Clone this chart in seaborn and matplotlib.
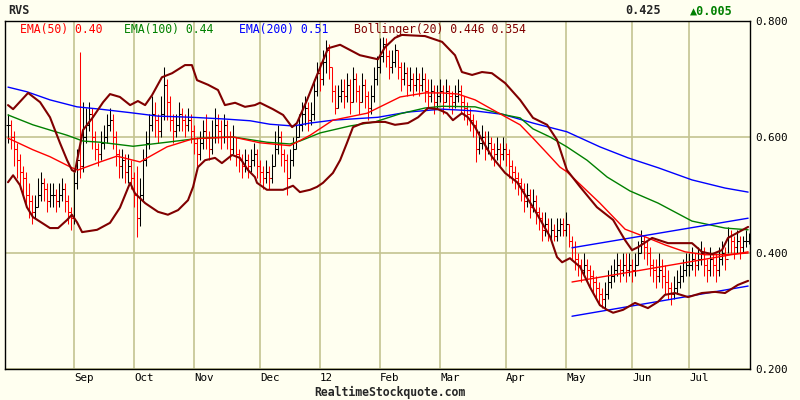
import numpy as np
import pandas as pd
import matplotlib
matplotlib.use("Agg")
import matplotlib.pyplot as plt
import seaborn as sns

ticker = "RVS"
last_price = "0.425"
change = "\u25b20.005"

month_pos = [22, 42, 62, 84, 104, 124, 144, 166, 186, 208, 227]
month_labels = ["Sep", "Oct", "Nov", "Dec", "12", "Feb", "Mar", "Apr", "May", "Jun", "Jul"]

# daily bars
close = [
    0.62, 0.60, 0.58, 0.56, 0.54, 0.53, 0.50, 0.49, 0.47, 0.48,
    0.50, 0.52, 0.51, 0.49, 0.50, 0.50, 0.49, 0.50, 0.51, 0.49,
    0.47, 0.46, 0.52, 0.56, 0.55, 0.60, 0.62, 0.64, 0.60, 0.58,
    0.57, 0.59, 0.60, 0.62, 0.63, 0.60, 0.57, 0.55, 0.56, 0.54,
    0.55, 0.53, 0.50, 0.46, 0.50, 0.56, 0.59, 0.62, 0.64, 0.63,
    0.61, 0.64, 0.69, 0.66, 0.63, 0.61, 0.62, 0.64, 0.63, 0.62,
    0.63, 0.61, 0.59, 0.57, 0.59, 0.61, 0.60, 0.58, 0.60, 0.62,
    0.61, 0.60, 0.62, 0.60, 0.58, 0.60, 0.57, 0.56, 0.55, 0.56,
    0.55, 0.56, 0.57, 0.55, 0.54, 0.53, 0.54, 0.53, 0.55, 0.58,
    0.60, 0.57, 0.56, 0.53, 0.56, 0.58, 0.60, 0.62, 0.64, 0.65,
    0.63, 0.64, 0.68, 0.71, 0.70, 0.73, 0.75, 0.72, 0.68, 0.65,
    0.67, 0.68, 0.67, 0.69, 0.66, 0.70, 0.68, 0.66, 0.69, 0.67,
    0.65, 0.67, 0.70, 0.72, 0.74, 0.76, 0.74, 0.72, 0.73, 0.75,
    0.72, 0.70, 0.71, 0.69, 0.70, 0.69, 0.70, 0.69, 0.70, 0.68,
    0.67, 0.68, 0.66, 0.67, 0.68, 0.66, 0.68, 0.67, 0.66, 0.67,
    0.68, 0.66, 0.65, 0.64, 0.63, 0.62, 0.58, 0.59, 0.60, 0.58,
    0.59, 0.58, 0.57, 0.58, 0.57, 0.58, 0.57, 0.55, 0.54, 0.53,
    0.52, 0.51, 0.49, 0.50, 0.48, 0.49, 0.47, 0.46, 0.44, 0.45,
    0.43, 0.44, 0.43, 0.44, 0.45, 0.44, 0.45, 0.42, 0.41, 0.39,
    0.38, 0.37, 0.38, 0.37, 0.36, 0.35, 0.34, 0.33, 0.32, 0.33,
    0.35, 0.36, 0.37, 0.38, 0.37, 0.38, 0.37, 0.38, 0.37, 0.38,
    0.40, 0.42, 0.41, 0.40, 0.38, 0.37, 0.36, 0.37, 0.36, 0.35,
    0.34, 0.33, 0.34, 0.35, 0.36, 0.37, 0.38, 0.38, 0.39, 0.38,
    0.39, 0.40, 0.38, 0.37, 0.39, 0.38, 0.37, 0.39, 0.40, 0.39,
    0.43, 0.42, 0.41, 0.42, 0.41, 0.42, 0.42, 0.425,
]
high = [
    0.64, 0.63, 0.61, 0.59, 0.57, 0.55, 0.54, 0.52, 0.50, 0.50,
    0.53, 0.54, 0.53, 0.52, 0.52, 0.52, 0.51, 0.52, 0.53, 0.52,
    0.50, 0.48, 0.54, 0.58, 0.746, 0.66, 0.65, 0.66, 0.65, 0.61,
    0.59, 0.61, 0.62, 0.64, 0.65, 0.64, 0.61, 0.58, 0.58, 0.57,
    0.57, 0.56, 0.54, 0.55, 0.53, 0.58, 0.61, 0.64, 0.67, 0.66,
    0.64, 0.67, 0.72, 0.70, 0.67, 0.64, 0.64, 0.66, 0.65, 0.64,
    0.65, 0.64, 0.62, 0.60, 0.61, 0.63, 0.64, 0.61, 0.63, 0.65,
    0.64, 0.63, 0.64, 0.63, 0.61, 0.62, 0.60, 0.58, 0.57, 0.58,
    0.57, 0.58, 0.59, 0.58, 0.56, 0.55, 0.56, 0.55, 0.57, 0.61,
    0.62, 0.61, 0.58, 0.57, 0.58, 0.60, 0.62, 0.64, 0.66, 0.67,
    0.66, 0.66, 0.70, 0.73, 0.73, 0.75, 0.767, 0.76, 0.72, 0.69,
    0.69, 0.70, 0.70, 0.71, 0.70, 0.72, 0.71, 0.69, 0.71, 0.70,
    0.68, 0.69, 0.72, 0.74, 0.77, 0.772, 0.77, 0.75, 0.75, 0.76,
    0.75, 0.73, 0.73, 0.72, 0.72, 0.71, 0.72, 0.71, 0.72, 0.71,
    0.70, 0.70, 0.69, 0.69, 0.70, 0.69, 0.70, 0.69, 0.68, 0.69,
    0.70, 0.69, 0.67, 0.66, 0.65, 0.64, 0.63, 0.61, 0.62, 0.61,
    0.61, 0.60, 0.59, 0.60, 0.59, 0.60, 0.59, 0.58, 0.56, 0.55,
    0.54, 0.53, 0.52, 0.52, 0.51, 0.51, 0.50, 0.48, 0.47, 0.47,
    0.46, 0.46, 0.45, 0.46, 0.46, 0.46, 0.47, 0.45, 0.43, 0.42,
    0.40, 0.39, 0.40, 0.39, 0.38, 0.37, 0.36, 0.35, 0.34, 0.35,
    0.37, 0.38, 0.39, 0.40, 0.39, 0.40, 0.40, 0.40, 0.39, 0.40,
    0.42, 0.44, 0.43, 0.42, 0.41, 0.39, 0.39, 0.40, 0.39, 0.38,
    0.37, 0.35, 0.36, 0.37, 0.38, 0.39, 0.40, 0.40, 0.41, 0.40,
    0.41, 0.42, 0.41, 0.39, 0.41, 0.40, 0.40, 0.41, 0.42, 0.41,
    0.445, 0.44, 0.43, 0.44, 0.43, 0.43, 0.44, 0.435,
]
low = [
    0.59, 0.58, 0.55, 0.53, 0.51, 0.50, 0.48, 0.46, 0.45, 0.46,
    0.48, 0.49, 0.49, 0.47, 0.48, 0.48, 0.47, 0.48, 0.49, 0.47,
    0.45, 0.44, 0.45, 0.51, 0.53, 0.54, 0.59, 0.61, 0.58, 0.56,
    0.55, 0.56, 0.58, 0.59, 0.61, 0.58, 0.55, 0.53, 0.53, 0.52,
    0.52, 0.51, 0.48, 0.428, 0.447, 0.49, 0.55, 0.58, 0.61, 0.60,
    0.59, 0.60, 0.63, 0.63, 0.61, 0.59, 0.60, 0.61, 0.61, 0.60,
    0.61, 0.59, 0.57, 0.55, 0.56, 0.58, 0.58, 0.56, 0.57, 0.59,
    0.59, 0.58, 0.59, 0.58, 0.56, 0.57, 0.55, 0.54, 0.53, 0.54,
    0.53, 0.54, 0.55, 0.53, 0.52, 0.51, 0.52, 0.51, 0.52, 0.55,
    0.57, 0.55, 0.54, 0.50, 0.53, 0.55, 0.58, 0.60, 0.61, 0.62,
    0.61, 0.62, 0.63, 0.67, 0.68, 0.69, 0.71, 0.70, 0.66, 0.64,
    0.65, 0.66, 0.65, 0.66, 0.64, 0.66, 0.66, 0.64, 0.66, 0.65,
    0.63, 0.64, 0.66, 0.69, 0.71, 0.73, 0.72, 0.70, 0.71, 0.72,
    0.70, 0.68, 0.69, 0.67, 0.68, 0.67, 0.68, 0.67, 0.68, 0.66,
    0.65, 0.66, 0.64, 0.65, 0.66, 0.64, 0.66, 0.65, 0.64, 0.65,
    0.66, 0.64, 0.63, 0.62, 0.61, 0.60, 0.557, 0.57, 0.58, 0.56,
    0.57, 0.56, 0.55, 0.56, 0.55, 0.56, 0.55, 0.53, 0.52, 0.51,
    0.50, 0.49, 0.47, 0.48, 0.46, 0.47, 0.45, 0.44, 0.42, 0.43,
    0.42, 0.42, 0.42, 0.42, 0.43, 0.43, 0.43, 0.41, 0.39, 0.37,
    0.36, 0.35, 0.36, 0.35, 0.34, 0.33, 0.32, 0.31, 0.305, 0.302,
    0.32, 0.34, 0.35, 0.36, 0.35, 0.36, 0.35, 0.36, 0.35, 0.36,
    0.38, 0.40, 0.39, 0.38, 0.36, 0.35, 0.34, 0.35, 0.34, 0.33,
    0.32, 0.31, 0.32, 0.33, 0.34, 0.35, 0.36, 0.36, 0.37, 0.36,
    0.37, 0.38, 0.36, 0.35, 0.36, 0.36, 0.35, 0.36, 0.38, 0.37,
    0.40, 0.40, 0.39, 0.40, 0.39, 0.40, 0.41, 0.415,
]

# indicator curves, sampled at bar positions
ema50_x = [0, 8.3, 14, 21.3, 23.3, 30.7, 36.3, 44, 53, 61.7, 75, 84, 94, 100.7, 108.3,
           119.7, 130.7, 139, 144.7, 150, 155.7, 164, 170.7, 175, 179.7, 184, 186.3,
           197.3, 205.7, 212.3, 219, 225.7, 232.3, 239, 246.7]
ema50_y = [0.598, 0.578, 0.566, 0.547, 0.543, 0.557, 0.567, 0.557, 0.583, 0.597, 0.600,
           0.590, 0.585, 0.603, 0.629, 0.641, 0.669, 0.676, 0.676, 0.674, 0.664, 0.640,
           0.621, 0.598, 0.572, 0.548, 0.540, 0.486, 0.441, 0.428, 0.414, 0.402, 0.397,
           0.397, 0.400]

ema100_x = [0, 8.3, 19.7, 25, 30.7, 41.7, 53, 64, 75, 86.3, 94, 97.3, 104, 114, 122.3,
            130.7, 139, 144.7, 155.7, 165.7, 170.7, 175, 180.7, 186.3, 193, 199.7, 207.3,
            216.7, 228, 239, 246.7]
ema100_y = [0.638, 0.621, 0.603, 0.593, 0.591, 0.584, 0.591, 0.598, 0.600, 0.591, 0.588,
            0.593, 0.607, 0.619, 0.626, 0.640, 0.650, 0.653, 0.652, 0.638, 0.633, 0.614,
            0.600, 0.583, 0.560, 0.531, 0.507, 0.486, 0.455, 0.443, 0.440]

ema200_x = [0, 6.3, 14, 23, 30.7, 40.7, 50, 61.3, 72.3, 80.7, 87.3, 95, 100.7, 108.3,
            123.3, 133.3, 144.7, 155.7, 165, 175, 186.3, 197.3, 206.7, 216.7, 228, 239, 246.7]
ema200_y = [0.686, 0.678, 0.664, 0.652, 0.648, 0.642, 0.636, 0.634, 0.631, 0.628, 0.622,
            0.619, 0.624, 0.629, 0.634, 0.643, 0.648, 0.645, 0.639, 0.624, 0.609, 0.583,
            0.564, 0.547, 0.526, 0.512, 0.505]

boll_up_x = [0, 1.7, 6.7, 10.7, 14, 17.3, 19.7, 21.3, 22.3, 25, 28.3, 31.7, 34, 37.3, 40.7,
             43.3, 45.7, 48, 51.3, 54.7, 59, 61.3, 63, 66.7, 70, 72.3, 75.7, 79, 82.3, 84,
             88.3, 91.7, 94.7, 96.3, 99.7, 102.3, 104.7, 106.7, 110.7, 114, 117.3, 123.3,
             125.7, 129, 131.3, 139, 144.7, 149, 151.3, 154.7, 158, 161.3, 165.7, 170.7,
             175, 179.7, 183, 186.3, 190.7, 196.3, 201.7, 205.7, 208, 210, 214.7, 220, 228,
             231.3, 234.7, 238, 240, 246.7]
boll_up_y = [0.655, 0.648, 0.676, 0.660, 0.634, 0.590, 0.560, 0.543, 0.540, 0.612, 0.634,
             0.660, 0.674, 0.669, 0.655, 0.662, 0.655, 0.672, 0.703, 0.710, 0.724, 0.724,
             0.698, 0.690, 0.681, 0.655, 0.659, 0.652, 0.655, 0.659, 0.648, 0.638, 0.617,
             0.624, 0.664, 0.698, 0.728, 0.753, 0.759, 0.750, 0.741, 0.734, 0.755, 0.771,
             0.776, 0.774, 0.764, 0.741, 0.712, 0.707, 0.712, 0.710, 0.693, 0.664, 0.633,
             0.621, 0.595, 0.543, 0.514, 0.479, 0.457, 0.422, 0.405, 0.410, 0.426, 0.417,
             0.417, 0.402, 0.398, 0.405, 0.426, 0.445]

boll_lo_x = [0, 1.7, 4, 6.3, 8.3, 14, 16.7, 19.7, 21.3, 23, 24.7, 29.7, 34, 37.3, 40.7,
             42.3, 45.7, 50, 53.3, 56.7, 60, 61.7, 63.3, 65.7, 69, 71.3, 74.7, 77.3, 80,
             82.3, 83, 86.3, 91.7, 95, 97.3, 100.7, 103, 105, 108.3, 110.7, 113, 115, 118.3,
             123, 125.7, 129, 133.3, 136.7, 140, 143.3, 146.3, 148.3, 151.3, 153.3, 155.7,
             158, 161.3, 165.7, 169.7, 175, 180.7, 183, 184.7, 187.3, 190.7, 194, 197.3,
             199.7, 201.7, 205, 209, 213.3, 216.7, 219, 222.3, 226.7, 231.3, 235.7, 239,
             243.3, 246.7]
boll_lo_y = [0.522, 0.534, 0.517, 0.479, 0.462, 0.443, 0.443, 0.457, 0.466, 0.453, 0.436,
             0.440, 0.452, 0.478, 0.521, 0.503, 0.486, 0.471, 0.466, 0.474, 0.491, 0.514,
             0.548, 0.560, 0.564, 0.555, 0.569, 0.564, 0.543, 0.531, 0.521, 0.509, 0.509,
             0.516, 0.505, 0.509, 0.514, 0.521, 0.538, 0.560, 0.590, 0.617, 0.624, 0.626,
             0.626, 0.621, 0.624, 0.634, 0.650, 0.648, 0.641, 0.629, 0.641, 0.634, 0.617,
             0.595, 0.566, 0.538, 0.522, 0.479, 0.428, 0.393, 0.384, 0.391, 0.376, 0.341,
             0.310, 0.302, 0.297, 0.302, 0.314, 0.305, 0.316, 0.328, 0.331, 0.324, 0.331,
             0.333, 0.331, 0.345, 0.352]

# trend channel drawn from May onward
trend_x = [188, 246.7]
trend_upper = [0.409, 0.460]
trend_mid = [0.350, 0.402]
trend_lower = [0.291, 0.343]

sns.set_style("white")
plt.rcParams["font.family"] = ["DejaVu Sans Mono", "DejaVu Sans"]

bg = "#fffff0"
grid_c = "#c4c490"
fig = plt.figure(figsize=(8, 4), dpi=100, facecolor=bg)
ax = fig.add_axes([5 / 800, 31 / 400, 745 / 800, 348 / 400])
ax.set_facecolor(bg)

# price bars
days = np.arange(len(close))
opens = [close[0]] + close[:-1]
colors = ["red" if c < o else "black" for c, o in zip(close, opens)]
ax.vlines(days, low, high, colors=colors, lw=0.75, zorder=3)
ax.hlines(opens, days - 0.8, days, colors=colors, lw=0.75, zorder=3)
ax.hlines(close, days, days + 0.8, colors=colors, lw=0.75, zorder=3)

sns.lineplot(x=ema200_x, y=ema200_y, color="#0000ff", lw=1.0, ax=ax, zorder=4)
sns.lineplot(x=ema100_x, y=ema100_y, color="#008000", lw=1.0, ax=ax, zorder=4)
sns.lineplot(x=ema50_x, y=ema50_y, color="#ff0000", lw=1.0, ax=ax, zorder=4)
sns.lineplot(x=boll_up_x, y=boll_up_y, color="#800000", lw=1.5, ax=ax, zorder=5)
sns.lineplot(x=boll_lo_x, y=boll_lo_y, color="#800000", lw=1.5, ax=ax, zorder=5)
sns.lineplot(x=trend_x, y=trend_upper, color="#0000ff", lw=1, ax=ax, zorder=4)
sns.lineplot(x=trend_x, y=trend_lower, color="#0000ff", lw=1, ax=ax, zorder=4)
sns.lineplot(x=trend_x, y=trend_mid, color="#ff0000", lw=1, ax=ax, zorder=4)

ax.set_xlim(-1, 247.33)
ax.set_ylim(0.2, 0.8)
ax.set_xticks(month_pos)
ax.set_xticklabels(month_labels, ha="left", fontsize=7.8)
ax.set_yticks([0.2, 0.4, 0.6, 0.8])
ax.set_yticklabels(["0.200", "0.400", "0.600", "0.800"], fontsize=7.8)
ax.yaxis.tick_right()
ax.tick_params(length=0, pad=3, colors="black")
ax.tick_params(axis="y", pad=4)
ax.grid(True, color=grid_c, lw=1.2)
ax.set_axisbelow(True)
ax.set_xlabel("")
ax.set_ylabel("")
for s in ax.spines.values():
    s.set_color("black")
    s.set_linewidth(1)

# header & legend
fig.text(8 / 800, 1 - 11 / 400, ticker, fontsize=8.5, weight="bold", va="center")
fig.text(625 / 800, 1 - 11 / 400, last_price, fontsize=8.5, weight="bold", va="center")
fig.text(690 / 800, 1 - 11 / 400, change, fontsize=8.5, weight="bold", va="center", color="#008000")
legend = [("EMA(50) 0.40", 20, "#ff0000"), ("EMA(100) 0.44", 124, "#008000"),
          ("EMA(200) 0.51", 239, "#0000ff"), ("Bollinger(20) 0.446 0.354", 354, "#800000")]
for txt, px, col in legend:
    fig.text(px / 800, 1 - 30 / 400, txt, fontsize=8.3, color=col, va="center")
fig.text(390 / 800, 1 - 392 / 400, "RealtimeStockquote.com", fontsize=8.3,
         weight="bold", ha="center", va="center")

fig.savefig("out.png", dpi=100, facecolor=bg)
